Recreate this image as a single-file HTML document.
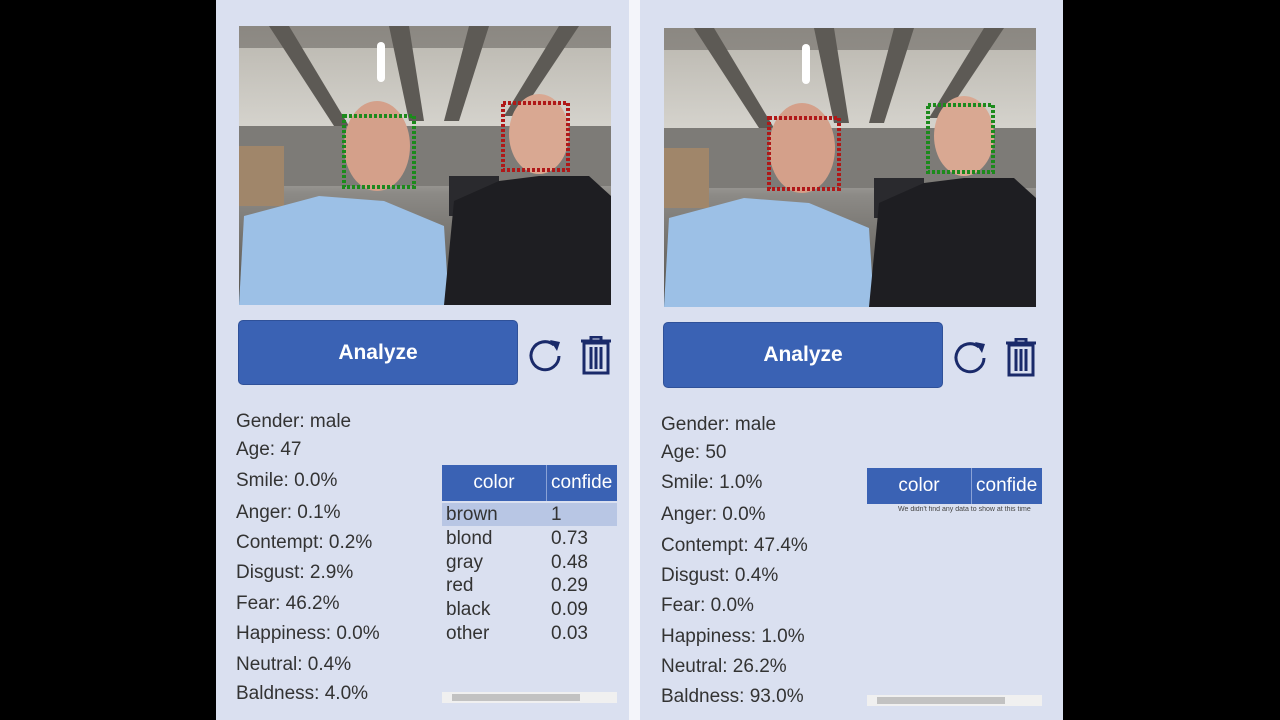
<!DOCTYPE html>
<html><head><meta charset="utf-8"><style>
*{margin:0;padding:0;box-sizing:border-box}
body{width:1280px;height:720px;background:#000;position:relative;overflow:hidden;font-family:"Liberation Sans","DejaVu Sans",sans-serif}
.p{position:absolute;top:0;height:720px;background:#dae0f0}
.a{position:absolute}
.btn{position:absolute;background:#3a62b4;border-radius:5px;color:#fff;font-weight:bold;font-size:21px;display:flex;align-items:center;justify-content:center;border:1px solid #2f5199}
.t{position:absolute;font-size:19px;color:#333;white-space:nowrap}
.hdr{position:absolute;height:36px;background:#3a62b4;color:#fff;font-size:19px;display:flex;overflow:hidden}
.hdr div{display:flex;align-items:center}
.row{position:absolute;font-size:19px;color:#333;white-space:nowrap}
</style></head><body>
<div class="p" style="left:216px;width:413px"></div>
<div class="p" style="left:629px;width:11px;background:#f4f5fa"></div>
<div class="p" style="left:640px;width:423px"></div>

<svg class="a" style="left:239px;top:26px" width="372" height="279" viewBox="0 0 372 279">
<defs><linearGradient id="c" x1="0" y1="0" x2="0" y2="1"><stop offset="0" stop-color="#b9b6ae"/><stop offset=".4" stop-color="#d8d6d0"/><stop offset=".6" stop-color="#8c8a86"/><stop offset="1" stop-color="#55524d"/></linearGradient></defs>
<rect width="372" height="279" fill="url(#c)"/>
<g fill="#5d5a55"><rect x="0" y="0" width="372" height="22" opacity=".5"/><polygon points="30,0 50,0 110,100 95,100"/><polygon points="150,0 170,0 185,95 170,95"/><polygon points="230,0 250,0 220,95 205,95"/><polygon points="320,0 340,0 280,90 265,90"/></g>
<rect x="138" y="16" width="8" height="40" rx="4" fill="#fff"/>
<rect x="0" y="100" width="372" height="60" fill="#7d7b77"/>
<rect x="0" y="120" width="45" height="60" fill="#a0866a"/>
<rect x="210" y="150" width="50" height="40" fill="#2a2a2e"/>
<path d="M0,279 L5,190 L80,170 L145,175 L205,200 L210,279 Z" fill="#9cc0e6"/>
<ellipse cx="138" cy="120" rx="33" ry="45" fill="#d4a08a"/>
<path d="M205,279 L215,175 L260,155 L300,150 L350,150 L372,170 L372,279Z" fill="#1e1e22"/>
<ellipse cx="300" cy="108" rx="30" ry="40" fill="#d9a892"/>
<rect x="264" y="77" width="65" height="67" fill="none" stroke="#b01818" stroke-width="4" stroke-dasharray="3 2"/>
<rect x="105" y="90" width="70" height="71" fill="none" stroke="#1c8a1c" stroke-width="4" stroke-dasharray="3 2"/>
</svg>

<svg class="a" style="left:664px;top:28px" width="372" height="279" viewBox="0 0 372 279">
<rect width="372" height="279" fill="url(#c)"/>
<g fill="#5d5a55"><rect x="0" y="0" width="372" height="22" opacity=".5"/><polygon points="30,0 50,0 110,100 95,100"/><polygon points="150,0 170,0 185,95 170,95"/><polygon points="230,0 250,0 220,95 205,95"/><polygon points="320,0 340,0 280,90 265,90"/></g>
<rect x="138" y="16" width="8" height="40" rx="4" fill="#fff"/>
<rect x="0" y="100" width="372" height="60" fill="#7d7b77"/>
<rect x="0" y="120" width="45" height="60" fill="#a0866a"/>
<rect x="210" y="150" width="50" height="40" fill="#2a2a2e"/>
<path d="M0,279 L5,190 L80,170 L145,175 L205,200 L210,279 Z" fill="#9cc0e6"/>
<ellipse cx="138" cy="120" rx="33" ry="45" fill="#d4a08a"/>
<path d="M205,279 L215,175 L260,155 L300,150 L350,150 L372,170 L372,279Z" fill="#1e1e22"/>
<ellipse cx="300" cy="108" rx="30" ry="40" fill="#d9a892"/>
<rect x="264" y="77" width="65" height="67" fill="none" stroke="#1c8a1c" stroke-width="4" stroke-dasharray="3 2"/>
<rect x="105" y="90" width="70" height="71" fill="none" stroke="#b01818" stroke-width="4" stroke-dasharray="3 2"/>
</svg>

<div class="btn" style="left:238px;top:320px;width:280px;height:65px">Analyze</div>
<div class="btn" style="left:663px;top:322px;width:280px;height:66px">Analyze</div>

<svg class="a" style="left:526px;top:336px" width="40" height="40" viewBox="0 0 40 40"><path d="M33,20 A14,14 0 1 1 28,9" fill="none" stroke="#1a2a6a" stroke-width="3"/><path d="M24,4 L34,6 L31,15Z" fill="#1a2a6a"/></svg>
<svg class="a" style="left:581px;top:336px" width="30" height="40" viewBox="0 0 30 40"><g fill="none" stroke="#1a2a6a" stroke-width="3"><rect x="3" y="7" width="24" height="30"/><line x1="10" y1="11" x2="10" y2="33"/><line x1="15" y1="11" x2="15" y2="33"/><line x1="20" y1="11" x2="20" y2="33"/><line x1="0" y1="5" x2="30" y2="5"/><rect x="10" y="1" width="10" height="4"/></g></svg>
<svg class="a" style="left:951px;top:338px" width="40" height="40" viewBox="0 0 40 40"><path d="M33,20 A14,14 0 1 1 28,9" fill="none" stroke="#1a2a6a" stroke-width="3"/><path d="M24,4 L34,6 L31,15Z" fill="#1a2a6a"/></svg>
<svg class="a" style="left:1006px;top:338px" width="30" height="40" viewBox="0 0 30 40"><g fill="none" stroke="#1a2a6a" stroke-width="3"><rect x="3" y="7" width="24" height="30"/><line x1="10" y1="11" x2="10" y2="33"/><line x1="15" y1="11" x2="15" y2="33"/><line x1="20" y1="11" x2="20" y2="33"/><line x1="0" y1="5" x2="30" y2="5"/><rect x="10" y="1" width="10" height="4"/></g></svg>

<div class="t" style="left:236px;top:411px">Gender: male</div>
<div class="t" style="left:236px;top:439px">Age: 47</div>
<div class="t" style="left:236px;top:470px">Smile: 0.0%</div>
<div class="t" style="left:236px;top:502px">Anger: 0.1%</div>
<div class="t" style="left:236px;top:532px">Contempt: 0.2%</div>
<div class="t" style="left:236px;top:562px">Disgust: 2.9%</div>
<div class="t" style="left:236px;top:593px">Fear: 46.2%</div>
<div class="t" style="left:236px;top:623px">Happiness: 0.0%</div>
<div class="t" style="left:236px;top:654px">Neutral: 0.4%</div>
<div class="t" style="left:236px;top:683px">Baldness: 4.0%</div>

<div class="t" style="left:661px;top:414px">Gender: male</div>
<div class="t" style="left:661px;top:442px">Age: 50</div>
<div class="t" style="left:661px;top:472px">Smile: 1.0%</div>
<div class="t" style="left:661px;top:504px">Anger: 0.0%</div>
<div class="t" style="left:661px;top:535px">Contempt: 47.4%</div>
<div class="t" style="left:661px;top:565px">Disgust: 0.4%</div>
<div class="t" style="left:661px;top:595px">Fear: 0.0%</div>
<div class="t" style="left:661px;top:626px">Happiness: 1.0%</div>
<div class="t" style="left:661px;top:656px">Neutral: 26.2%</div>
<div class="t" style="left:661px;top:686px">Baldness: 93.0%</div>

<div class="hdr" style="left:442px;top:465px;width:175px"><div style="width:105px;justify-content:center;border-right:1px solid #8aa2d6">color</div><div style="padding-left:4px">confide</div></div>
<div class="a" style="left:442px;top:503px;width:175px;height:23px;background:#b8c6e4"></div>
<div class="row" style="left:446px;top:503px;line-height:23.8px">brown<br>blond<br>gray<br>red<br>black<br>other</div>
<div class="row" style="left:551px;top:503px;line-height:23.8px">1<br>0.73<br>0.48<br>0.29<br>0.09<br>0.03</div>
<div class="a" style="left:442px;top:692px;width:175px;height:11px;background:#f0f0f0"></div>
<div class="a" style="left:452px;top:694px;width:128px;height:7px;background:#c2c2c2"></div>

<div class="hdr" style="left:867px;top:468px;width:175px"><div style="width:105px;justify-content:center;border-right:1px solid #8aa2d6">color</div><div style="padding-left:4px">confide</div></div>
<div class="a" style="left:898px;top:506px;font-size:7px;color:#444;white-space:nowrap;width:144px;overflow:hidden">We didn't find any data to show at this time</div>
<div class="a" style="left:867px;top:695px;width:175px;height:11px;background:#f0f0f0"></div>
<div class="a" style="left:877px;top:697px;width:128px;height:7px;background:#c2c2c2"></div>
</body></html>
